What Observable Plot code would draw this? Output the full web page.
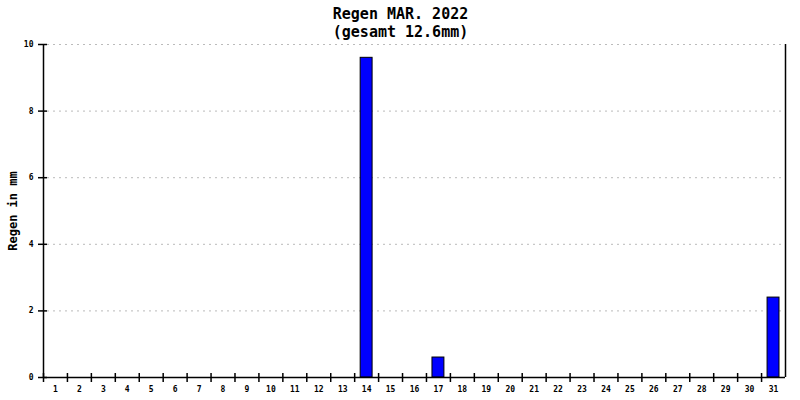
<!DOCTYPE html>
<html>
<head>
<meta charset="utf-8">
<script src="https://cdn.jsdelivr.net/npm/d3@7"></script>
<script src="https://cdn.jsdelivr.net/npm/@observablehq/plot@0.6"></script>
<style>
  html, body { margin: 0; padding: 0; background: #fff; }
  #chart { width: 800px; height: 400px; }
</style>
</head>
<body>
<div id="chart"></div>
<script>
const titleLine1 = "Regen MAR. 2022";
const titleLine2 = "(gesamt 12.6mm)";
const yLabel = "Regen in mm";
const days = d3.range(1, 32);
const rain = [0,0,0,0,0,0,0,0,0,0,0,0,0,9.6,0,0,0.6,0,0,0,0,0,0,0,0,0,0,0,0,0,2.4];
const yTicks = [0, 2, 4, 6, 8, 10];
const gridTicks = [2, 4, 6, 8, 10];

const data = days.map((d, i) => ({day: d, mm: rain[i]}));
const bars = data.filter(d => d.mm > 0);
const boundaries = days.map(d => d - 0.5);

const font = "'DejaVu Sans Mono', monospace";

const chart = Plot.plot({
  width: 800,
  height: 400,
  marginTop: 44,
  marginBottom: 23,
  marginLeft: 43,
  marginRight: 15,
  style: {fontFamily: font, background: "#fff"},
  x: {type: "linear", domain: [0.5, 31.5]},
  y: {domain: [0, 10]},
  marks: [
    Plot.ruleY(gridTicks, {stroke: "#bbb", strokeDasharray: "2,4", strokeWidth: 1, insetLeft: 4, insetRight: 4}),
    Plot.rectY(bars, {x1: d => d.day - 0.5, x2: d => d.day + 0.5, y: "mm", fill: "#0000ff", stroke: "#000", strokeWidth: 1, insetLeft: 6, insetRight: 6}),
    Plot.ruleX([0.5, 31.5], {stroke: "#000", strokeWidth: 1.5}),
    Plot.ruleY([0], {stroke: "#000", strokeWidth: 1.5}),
    Plot.ruleX(boundaries, {y1: 0, y2: 0, insetTop: -4, insetBottom: -5, stroke: "#000", strokeWidth: 1.5}),
    Plot.ruleY(yTicks, {x1: 0.5, x2: 0.5, insetLeft: -5, insetRight: -4, stroke: "#000", strokeWidth: 1.5}),
    Plot.axisX(days, {tickSize: 0, tickPadding: 9, label: null, fontSize: 8, fontWeight: "bold", tickFormat: d => String(d)}),
    Plot.axisY(yTicks, {tickSize: 0, tickPadding: 10, label: null, fontSize: 8, fontWeight: "bold"}),
    Plot.text([yLabel], {frameAnchor: "left", textAnchor: "middle", dx: -30, dy: 0, rotate: -90, fontSize: 12, fontWeight: "bold", fill: "#000"}),
    Plot.text([titleLine1], {frameAnchor: "top", dx: -14, dy: -36, fontSize: 15, fontWeight: "bold", fill: "#000"}),
    Plot.text([titleLine2], {frameAnchor: "top", dx: -14, dy: -18, fontSize: 15, fontWeight: "bold", fill: "#000"})
  ]
});
document.getElementById("chart").appendChild(chart);
</script>
</body>
</html>
